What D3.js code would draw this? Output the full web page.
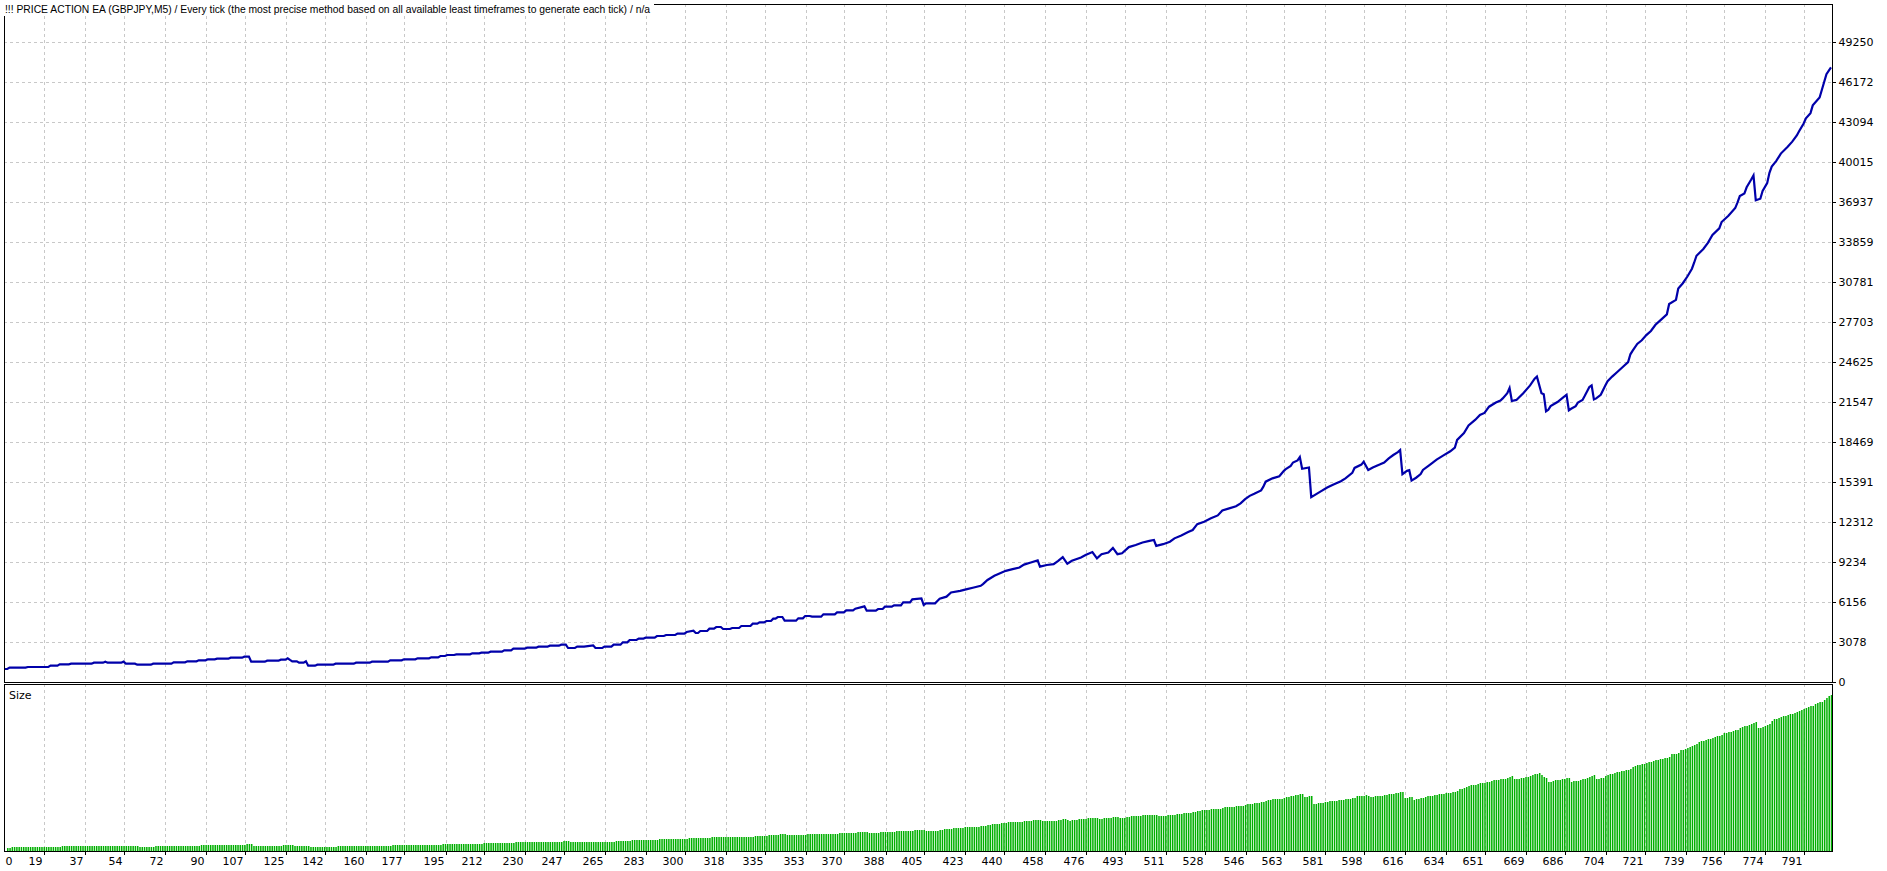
<!DOCTYPE html>
<html><head><meta charset="utf-8">
<script src="https://cdn.jsdelivr.net/npm/d3@7/dist/d3.min.js"></script>
<style>
html,body{margin:0;padding:0;background:#fff;overflow:hidden}
svg{display:block}
</style></head><body>
<svg id="c" width="1887" height="871"></svg>
<script>
// ---------------- DATA ----------------
const chartTitle = "!!! PRICE ACTION EA (GBPJPY,M5) / Every tick (the most precise method based on all available least timeframes to generate each tick) / n/a";
const sizePanelLabel = "Size";
const yTickValues = [0,3078,6156,9234,12312,15391,18469,21547,24625,27703,30781,33859,36937,40015,43094,46172,49250];
const xTickValues = [0,19,37,54,72,90,107,125,142,160,177,195,212,230,247,265,283,300,318,335,353,370,388,405,423,440,458,476,493,511,528,546,563,581,598,616,634,651,669,686,704,721,739,756,774,791];
const tradeCount = 801;
// balance curve: [trade number, balance]
const balanceCurve = [
[0,1000],[1,1000],[2,1103],[9,1103],[10,1154],[19,1154],[20,1257],[23,1257],[24,1360],[28,1360],[29,1411],[38,1411],[39,1488],[43,1488],[44,1565],[45,1488],[51,1488],[52,1565],[53,1411],[57,1411],[58,1334],[64,1334],[65,1411],[73,1411],[74,1513],[79,1513],[80,1590],[84,1590],[85,1667],[88,1667],[89,1744],[92,1744],[93,1796],[98,1796],[99,1873],[104,1873],[105,1950],[107,1950],[108,1565],[114,1565],[115,1642],[120,1642],[121,1719],[123,1719],[124,1821],[125,1700],[126,1590],[128,1590],[129,1488],[131,1488],[132,1590],[133,1257],[136,1257],[137,1334],[144,1334],[145,1411],[153,1411],[154,1488],[160,1488],[161,1565],[168,1565],[169,1667],[174,1667],[175,1744],[180,1744],[181,1821],[186,1821],[187,1898],[190,1898],[191,2001],[193,2001],[194,2078],[197,2078],[198,2129],[204,2129],[205,2206],[208,2206],
[209,2257],[212,2257],[213,2334],[218,2334],[219,2437],[222,2437],[223,2565],[228,2565],[229,2642],[233,2642],[234,2719],[238,2719],[239,2796],[243,2796],[244,2873],[246,2873],[247,2616],[250,2616],[251,2719],[254,2719],[258,2822],[259,2616],[262,2616],[263,2719],[266,2719],[267,2873],[270,2873],[271,3053],[273,3053],[274,3232],[277,3232],[278,3335],[280,3335],[281,3412],[285,3412],[286,3540],[289,3540],[290,3617],[294,3617],[295,3720],[298,3720],[299,3848],[302,3950],[303,3771],[304,3771],[305,3925],[308,3925],[309,4104],[311,4104],[312,4232],[314,4232],[315,4079],[318,4079],[319,4155],[322,4155],[323,4309],[327,4309],[328,4489],[330,4489],[331,4592],[333,4592],[334,4694],[336,4694],[337,4874],[338,4874],[339,5002],[341,5002],[342,4720],[347,4720],[348,4899],[350,4899],[351,5079],[353,5079],[354,5027],[358,5027],[359,5207],[364,5207],[365,5361],[368,5361],[369,5515],[372,5515],[373,5643],[377,5823],[378,5489],[382,5489],[383,5617],[385,5617],[386,5797],[389,5797],[390,5900],[393,5900],[394,6131],[397,6131],[398,6362],[402,6439],[403,5925],[404,6054],[408,6054],[409,6234],[410,6406],
[413,6566],[415,6887],[419,7015],[422,7144],[425,7272],[428,7400],[429,7528],[431,7849],[434,8169],[436,8330],[439,8554],[442,8682],[445,8811],[447,9035],[450,9195],[453,9356],[454,8875],[457,9003],[460,9067],[462,9324],[464,9612],[466,9099],[468,9324],[472,9580],[474,9773],[477,9997],[479,9516],[481,9837],[484,9965],[486,10318],[488,9837],[490,9901],[493,10382],[496,10542],[499,10735],[502,10863],[504,10927],[505,10478],[508,10606],[511,10799],[513,11055],[516,11280],[519,11536],[521,11697],[523,12146],[526,12338],[529,12594],[532,12819],[534,13203],[537,13364],[540,13524],[542,13748],[544,14069],[546,14325],[548,14486],[551,14742],[552,15031],[553,15416],[556,15672],[559,15832],[561,16249],[562,16410],[564,16634],[565,16891],[567,17051],[568,17307],[569,16410],[572,16505],[573,14229],[577,14646],[580,14967],[583,15224],[586,15448],[588,15672],[591,16089],[592,16474],[595,16730],[596,16955],[598,16313],[600,16505],[603,16730],[605,16891],[607,17211],[609,17468],[611,17692],[612,17853],[613,15993],[615,16249],[616,16300],[617,15500],[619,15719],[621,15998],[622,16317],[625,16716],[628,17115],[631,17435],[634,17754],[636,18033],[637,18632],[640,19151],[642,19750],[645,20189],[647,20548],[649,20707],[651,21186],[654,21506],[656,21665],[657,21825],[659,22224],[660,22623],[661,21625],[663,21705],[666,22224],[669,22823],[671,23341],[672,23501],[674,22224],[675,22144],[676,20827],[677,20947],[678,21226],[681,21546],[683,21825],[685,22105],[686,20907],[687,21027],[689,21226],[690,21506],[692,21705],[693,22025],[695,22703],[696,22823],[697,21745],[698,21825],[700,22105],[702,22823],[703,23142],[705,23501],[707,23821],[710,24300],[712,24619],[713,25217],[714,25497],[716,26016],[718,26296],[720,26694],[722,27014],[724,27493],[726,27812],[729,28291],[730,29089],[733,29409],[734,30287],[736,30686],[738,31205],[740,31803],[741,32282],[742,32801],[745,33320],[747,33799],[749,34398],[752,34916],[753,35395],[756,35874],[759,36473],[760,36912],[761,37391],[763,37591],[764,38070],[766,38668],[767,38988],[768,37072],[770,37192],[771,37790],[773,38389],[774,39187],[775,39666],[777,40105],[779,40664],[782,41183],[784,41582],[786,42061],[787,42380],[789,42979],[790,43378],[792,43777],[793,44376],[796,44975],[797,45573],[798,46172],[799,46771],[801,47290]
];
// lot size of trades 1..801
const sizeValues = [
0.10,0.10,0.11,0.11,0.11,0.11,0.11,0.11,0.11,0.11,
0.12,0.12,0.12,0.12,0.12,0.12,0.12,0.12,0.12,0.12,
0.13,0.13,0.13,0.13,0.14,0.14,0.14,0.14,0.14,0.14,
0.14,0.14,0.14,0.14,0.14,0.14,0.14,0.14,0.14,0.15,
0.15,0.15,0.15,0.15,0.16,0.15,0.15,0.15,0.15,0.15,
0.15,0.15,0.16,0.14,0.14,0.14,0.14,0.14,0.13,0.13,
0.13,0.13,0.13,0.13,0.13,0.14,0.14,0.14,0.14,0.14,
0.14,0.14,0.14,0.14,0.15,0.15,0.15,0.15,0.15,0.15,
0.16,0.16,0.16,0.16,0.16,0.17,0.17,0.17,0.17,0.17,
0.17,0.17,0.17,0.18,0.18,0.18,0.18,0.18,0.18,0.19,
0.19,0.19,0.19,0.19,0.19,0.20,0.20,0.20,0.16,0.16,
0.16,0.16,0.16,0.16,0.16,0.16,0.16,0.16,0.16,0.16,
0.16,0.17,0.17,0.17,0.18,0.17,0.16,0.16,0.16,0.15,
0.15,0.15,0.16,0.13,0.13,0.13,0.13,0.13,0.13,0.13,
0.13,0.13,0.13,0.13,0.13,0.14,0.14,0.14,0.14,0.14,
0.14,0.14,0.14,0.14,0.15,0.15,0.15,0.15,0.15,0.15,
0.15,0.16,0.16,0.16,0.16,0.16,0.16,0.16,0.16,0.17,
0.17,0.17,0.17,0.17,0.17,0.17,0.17,0.17,0.17,0.17,
0.17,0.18,0.18,0.18,0.18,0.18,0.18,0.19,0.19,0.19,
0.19,0.20,0.20,0.20,0.21,0.21,0.21,0.21,0.21,0.21,
0.21,0.21,0.21,0.21,0.21,0.22,0.22,0.22,0.22,0.23,
0.23,0.23,0.23,0.23,0.23,0.23,0.23,0.23,0.23,0.24,
0.24,0.24,0.24,0.26,0.26,0.26,0.26,0.26,0.26,0.26,
0.26,0.26,0.26,0.26,0.27,0.27,0.27,0.27,0.27,0.28,
0.28,0.28,0.28,0.28,0.29,0.29,0.29,0.26,0.26,0.26,
0.26,0.27,0.27,0.27,0.27,0.27,0.28,0.28,0.28,0.26,
0.26,0.26,0.26,0.27,0.27,0.27,0.27,0.29,0.29,0.29,
0.29,0.31,0.31,0.31,0.32,0.32,0.32,0.32,0.33,0.33,
0.33,0.34,0.34,0.34,0.34,0.34,0.35,0.35,0.35,0.35,
0.36,0.36,0.36,0.36,0.36,0.37,0.37,0.37,0.37,0.38,
0.39,0.39,0.40,0.38,0.38,0.39,0.39,0.39,0.39,0.41,
0.41,0.41,0.42,0.42,0.42,0.41,0.41,0.41,0.41,0.42,
0.42,0.42,0.42,0.43,0.43,0.43,0.43,0.43,0.45,0.45,
0.45,0.46,0.46,0.46,0.47,0.47,0.47,0.49,0.49,0.50,
0.50,0.50,0.47,0.47,0.47,0.47,0.47,0.47,0.49,0.49,
0.49,0.51,0.51,0.51,0.50,0.50,0.50,0.50,0.50,0.52,
0.52,0.52,0.52,0.52,0.52,0.54,0.54,0.54,0.54,0.55,
0.55,0.55,0.55,0.56,0.57,0.57,0.58,0.58,0.55,0.55,
0.55,0.55,0.55,0.56,0.56,0.56,0.58,0.58,0.58,0.58,
0.59,0.59,0.59,0.59,0.61,0.61,0.61,0.61,0.64,0.64,
0.64,0.64,0.64,0.59,0.61,0.61,0.61,0.61,0.61,0.62,
0.64,0.65,0.65,0.66,0.67,0.69,0.69,0.70,0.70,0.70,
0.71,0.71,0.71,0.72,0.72,0.73,0.73,0.74,0.74,0.75,
0.77,0.78,0.80,0.81,0.82,0.82,0.83,0.84,0.85,0.86,
0.86,0.86,0.87,0.87,0.88,0.88,0.89,0.90,0.91,0.91,
0.92,0.92,0.93,0.94,0.89,0.89,0.90,0.90,0.90,0.90,
0.91,0.92,0.93,0.95,0.96,0.94,0.91,0.92,0.93,0.94,
0.95,0.95,0.96,0.97,0.98,0.98,0.99,1.00,0.98,0.95,
0.97,0.98,0.99,0.99,1.00,1.01,1.03,1.01,0.98,0.99,
0.99,1.01,1.02,1.04,1.04,1.05,1.05,1.06,1.07,1.07,
1.08,1.08,1.09,1.09,1.09,1.05,1.05,1.06,1.06,1.07,
1.07,1.08,1.09,1.11,1.11,1.12,1.13,1.14,1.15,1.15,
1.16,1.17,1.19,1.21,1.22,1.23,1.23,1.24,1.25,1.26,
1.27,1.27,1.28,1.30,1.32,1.33,1.33,1.34,1.34,1.35,
1.35,1.36,1.37,1.39,1.41,1.42,1.43,1.44,1.45,1.46,
1.47,1.47,1.50,1.54,1.55,1.56,1.57,1.57,1.58,1.58,
1.60,1.62,1.64,1.65,1.66,1.69,1.70,1.71,1.73,1.64,
1.64,1.65,1.65,1.42,1.43,1.44,1.45,1.46,1.48,1.49,
1.50,1.51,1.51,1.52,1.53,1.54,1.54,1.56,1.57,1.58,
1.60,1.61,1.65,1.66,1.66,1.67,1.70,1.66,1.63,1.64,
1.65,1.66,1.67,1.67,1.68,1.69,1.71,1.72,1.73,1.75,
1.76,1.77,1.79,1.60,1.61,1.62,1.63,1.55,1.56,1.57,
1.59,1.60,1.63,1.65,1.66,1.67,1.68,1.70,1.71,1.72,
1.73,1.74,1.75,1.76,1.78,1.79,1.80,1.86,1.88,1.90,
1.92,1.95,1.98,1.99,2.00,2.02,2.04,2.05,2.06,2.07,
2.09,2.12,2.13,2.14,2.15,2.16,2.17,2.18,2.20,2.22,
2.26,2.16,2.17,2.17,2.19,2.21,2.22,2.24,2.26,2.28,
2.31,2.33,2.35,2.29,2.22,2.21,2.08,2.09,2.12,2.13,
2.14,2.15,2.17,2.18,2.20,2.21,2.09,2.10,2.11,2.12,
2.15,2.16,2.17,2.20,2.24,2.27,2.28,2.17,2.18,2.20,
2.21,2.25,2.28,2.31,2.33,2.35,2.37,2.38,2.40,2.41,
2.43,2.45,2.46,2.52,2.55,2.58,2.60,2.62,2.63,2.65,
2.67,2.69,2.70,2.73,2.75,2.77,2.78,2.80,2.81,2.83,
2.91,2.92,2.93,2.94,3.03,3.05,3.07,3.09,3.12,3.15,
3.18,3.23,3.28,3.30,3.31,3.33,3.36,3.38,3.41,3.44,
3.46,3.47,3.49,3.54,3.56,3.57,3.59,3.61,3.63,3.65,
3.69,3.74,3.75,3.76,3.81,3.84,3.87,3.90,3.71,3.71,
3.72,3.78,3.81,3.84,3.92,3.97,3.99,4.01,4.04,4.07,
4.08,4.10,4.12,4.14,4.16,4.18,4.21,4.24,4.27,4.30,
4.34,4.36,4.38,4.44,4.46,4.48,4.50,4.56,4.62,4.68,
4.70
];

// ---------------- LAYOUT ----------------
const W = 1887, H = 871;
const L = 4, R = 1832, T = 4, B = 682, ST = 684, SB = 851;
const FONT = '"DejaVu Sans", Verdana, sans-serif';
const TITLE_FONT = '"Liberation Sans", Arial, sans-serif';
const svg = d3.select('#c');

const x = d3.scaleLinear().domain([0, tradeCount]).range([5, 1831]);
const xg = x.copy().range([1, 1827]);           // grid/label scale of the tester
const y = d3.scaleLinear().domain([0, 49250 * (B - T) / 640]).range([B, T]);
const ys = d3.scaleLinear().domain([0, 5.03]).range([SB, ST]);

svg.append('rect').attr('width', W).attr('height', H).attr('fill', '#fff');

// grid
const gridG = svg.append('g').attr('stroke', '#c8c8c8').attr('stroke-dasharray', '3,3')
  .attr('shape-rendering', 'crispEdges').attr('fill', 'none');
const vTicks = xTickValues.filter(d => d > 0);
[[T, B], [ST, SB]].forEach(([a, b]) => {
  gridG.append('g').selectAll('line').data(vTicks).join('line')
    .attr('x1', d => Math.round(xg(d)) + 0.5).attr('x2', d => Math.round(xg(d)) + 0.5)
    .attr('y1', a).attr('y2', b);
});
gridG.append('g').selectAll('line').data(yTickValues.filter(d => d > 0)).join('line')
  .attr('y1', d => Math.round(y(d)) + 0.5).attr('y2', d => Math.round(y(d)) + 0.5)
  .attr('x1', L).attr('x2', R);

// size bars
svg.append('g').attr('fill', '#00b000')
  .selectAll('rect').data(sizeValues).join('rect')
  .attr('x', (d, i) => x(i + 1) - 0.25)
  .attr('width', 1.5)
  .attr('y', d => Math.round(ys(d)))
  .attr('height', d => SB - Math.round(ys(d)));

// balance line
svg.append('path').datum(balanceCurve)
  .attr('d', d3.line().x(d => x(d[0])).y(d => y(d[1])))
  .attr('fill', 'none').attr('stroke', '#0000aa').attr('stroke-width', 2.2);

// frames
const frame = svg.append('g').attr('fill', 'none').attr('stroke', '#000').attr('shape-rendering', 'crispEdges');
frame.append('rect').attr('x', L + 0.5).attr('y', T + 0.5).attr('width', R - L).attr('height', B - T);
frame.append('rect').attr('x', L + 0.5).attr('y', ST + 0.5).attr('width', R - L).attr('height', SB - ST);

// right axis
const ay = svg.append('g').attr('transform', `translate(${R + 0.5},0)`)
  .call(d3.axisRight(y).tickValues(yTickValues).tickSize(3).tickPadding(3).tickFormat(d => String(d)));
ay.select('.domain').remove();
ay.attr('font-family', FONT).attr('font-size', 11);
ay.selectAll('.tick line').attr('stroke', '#000').attr('shape-rendering', 'crispEdges');
ay.selectAll('.tick text').attr('fill', '#000');
ay.selectAll('.tick').attr('transform', d => `translate(0,${Math.round(y(d)) + 0.5})`);

// bottom axis
const ax = svg.append('g').attr('transform', `translate(0,${SB + 0.5})`)
  .call(d3.axisBottom(xg).tickValues(xTickValues).tickSize(3).tickPadding(3).tickFormat(d => String(d)));
ax.select('.domain').remove();
ax.attr('font-family', FONT).attr('font-size', 11);
ax.selectAll('.tick').attr('transform', d => `translate(${Math.round(xg(d)) + 0.5},0)`);
ax.selectAll('.tick line').attr('stroke', '#000').attr('shape-rendering', 'crispEdges')
  .attr('display', d => d === 0 ? 'none' : null);
ax.selectAll('.tick text').attr('fill', '#000')
  .attr('text-anchor', d => d === 0 ? 'start' : 'end')
  .attr('x', d => d === 0 ? 5 - Math.round(xg(0)) : -2);

// title with white backing box
const tg = svg.append('g');
const tbox = tg.append('rect').attr('x', 0).attr('y', 0).attr('height', 16).attr('fill', '#fff');
const tt = tg.append('text').attr('x', 5).attr('y', 13).attr('font-family', TITLE_FONT).attr('font-size', 11)
  .attr('fill', '#000').attr('textLength', 645).attr('lengthAdjust', 'spacingAndGlyphs').text(chartTitle);
tbox.attr('width', 5 + 645 + 4);

// size label
svg.append('text').attr('x', 9).attr('y', 699).attr('font-family', FONT).attr('font-size', 11)
  .attr('fill', '#000').text(sizePanelLabel);
</script>
</body></html>
